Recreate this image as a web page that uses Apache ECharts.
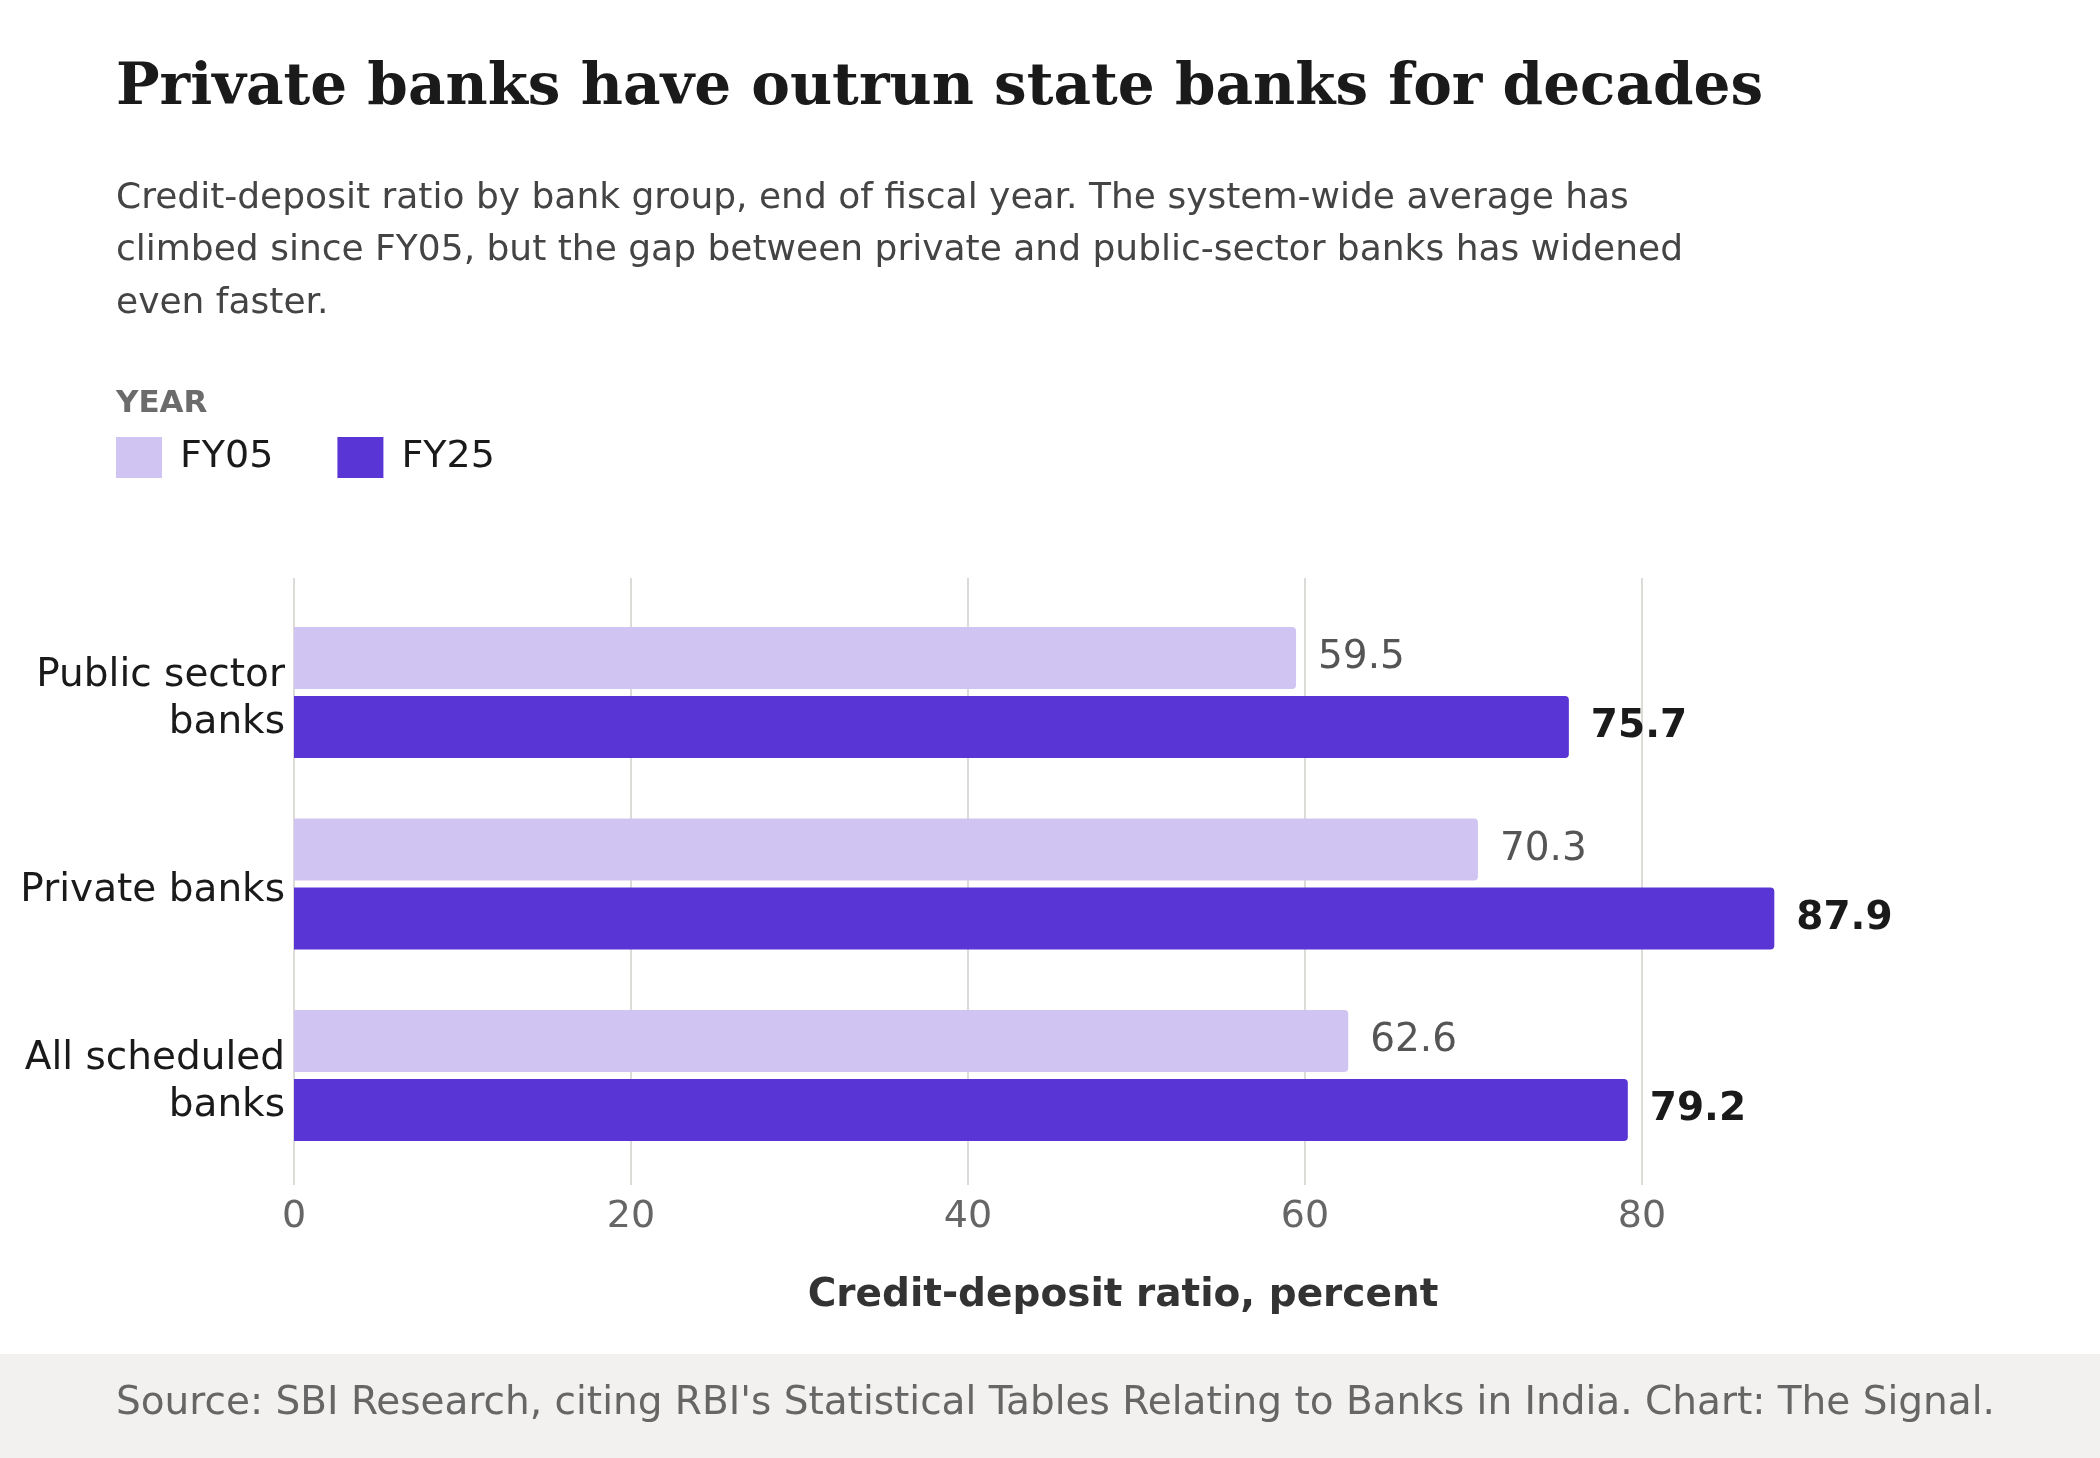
<!DOCTYPE html>
<html>
<head>
<meta charset="utf-8">
<title>Private banks have outrun state banks for decades</title>
<script src="https://cdn.jsdelivr.net/npm/echarts@6/dist/echarts.min.js"></script>
<style>
  html, body { margin: 0; padding: 0; background: #fff; }
  #chart { width: 2100px; height: 1458px; }
</style>
</head>
<body>
<div id="chart"></div>
<script>
// data
var bankGroups = ['Public sector\nbanks', 'Private banks', 'All scheduled\nbanks'];
var yearNames = ['FY05', 'FY25'];
var fy05 = [59.5, 70.3, 62.6];
var fy25 = [75.7, 87.9, 79.2];
var xTicks = [0, 20, 40, 60, 80];
var xMax = 98.45;

var SANS = 'DejaVu Sans';
var LIGHT = '#d0c5f2';
var DARK = '#5a35d6';
var GRID = '#dcdbd8';

var chart = echarts.init(document.getElementById('chart'), null, { renderer: 'canvas' });

var option = {
    backgroundColor: '#ffffff',
    animation: false,
    legend: {
        left: 111,
        top: 432,
        icon: 'rect',
        itemWidth: 46,
        itemHeight: 41,
        itemGap: 64,
        selectedMode: false,
        data: yearNames,
        textStyle: { fontFamily: SANS, fontSize: 38, color: '#1a1a1a', padding: [0, 0, 0, 13] }
    },
    graphic: [
        { type: 'rect', left: 0, top: 1354, shape: { width: 2100, height: 104 }, style: { fill: '#f2f1ef' }, z: -1 },
        { type: 'text', x: 116, y: 89, style: { text: 'Private banks have outrun state banks for decades', font: 'bold 58px "DejaVu Serif"', fill: '#1a1a1a', verticalAlign: 'middle' } },
        { type: 'text', x: 116, y: 172, style: { text: 'Credit-deposit ratio by bank group, end of fiscal year. The system-wide average has\nclimbed since FY05, but the gap between private and public-sector banks has widened\neven faster.', font: '36px "DejaVu Sans"', lineHeight: 52.5, fill: '#444444', verticalAlign: 'top' } },
        { type: 'text', x: 116, y: 404, style: { text: 'YEAR', font: 'bold 31px "DejaVu Sans"', fill: '#6b6b6b', verticalAlign: 'middle' } },
        { type: 'text', x: 116, y: 1404, style: { text: "Source: SBI Research, citing RBI's Statistical Tables Relating to Banks in India. Chart: The Signal.", font: '39px "DejaVu Sans"', fill: '#666666', verticalAlign: 'middle' } }
    ],
    grid: [
        // gridlines + tick labels
        { left: 294, width: 1348, top: 578, height: 607, containLabel: false },
        // bars
        { left: 294, right: 148, top: 596.75, bottom: 286.75, containLabel: false }
    ],
    xAxis: [
        {
            gridIndex: 0, type: 'value', min: xTicks[0], max: xTicks[xTicks.length - 1], interval: 20,
            axisLine: { show: false }, axisTick: { show: false },
            splitLine: { show: true, lineStyle: { color: GRID, width: 2 } },
            axisLabel: { margin: 13, fontFamily: SANS, fontSize: 38, color: '#666666' }
        },
        {
            gridIndex: 1, type: 'value', min: 0, max: xMax,
            axisLine: { show: false }, axisTick: { show: false }, axisLabel: { show: false },
            splitLine: { show: false },
            name: 'Credit-deposit ratio, percent', nameLocation: 'middle', nameGap: 105,
            nameTextStyle: { fontFamily: SANS, fontSize: 39, fontWeight: 'bold', color: '#333333' }
        }
    ],
    yAxis: [
        { gridIndex: 0, type: 'value', show: false, min: 0, max: 1 },
        {
            gridIndex: 1, type: 'category', data: bankGroups, inverse: true,
            axisLine: { show: false }, axisTick: { show: false },
            axisLabel: {
                margin: 9, fontFamily: SANS, fontSize: 39, lineHeight: 47, color: '#1a1a1a', align: 'right',
                // small spacer line on top nudges the block down a little
                formatter: function (v) {
                    return '{sp| }\n' + v.split('\n').map(function (l) { return '{t|' + l + '}'; }).join('\n');
                },
                rich: {
                    sp: { fontSize: 4, lineHeight: 14 },
                    t: { fontFamily: SANS, fontSize: 39, lineHeight: 47, color: '#1a1a1a', align: 'right' }
                }
            }
        }
    ],
    series: [
        {
            name: yearNames[0], type: 'bar', xAxisIndex: 1, yAxisIndex: 1,
            data: fy05, barWidth: 62, barGap: '11.3%', z: 3,
            itemStyle: { color: LIGHT, borderRadius: [0, 4, 4, 0] },
            label: { show: true, position: 'right', distance: 22, fontFamily: SANS, fontSize: 39, color: '#555555',
                formatter: function (p) { return p.value.toFixed(1); } }
        },
        {
            name: yearNames[1], type: 'bar', xAxisIndex: 1, yAxisIndex: 1,
            data: fy25, barWidth: 62, barGap: '11.3%', z: 3,
            itemStyle: { color: DARK, borderRadius: [0, 4, 4, 0] },
            label: { show: true, position: 'right', distance: 22, fontFamily: SANS, fontSize: 39, fontWeight: 'bold', color: '#1a1a1a',
                formatter: function (p) { return p.value.toFixed(1); } }
        }
    ]
};

chart.setOption(option);
</script>
</body>
</html>
